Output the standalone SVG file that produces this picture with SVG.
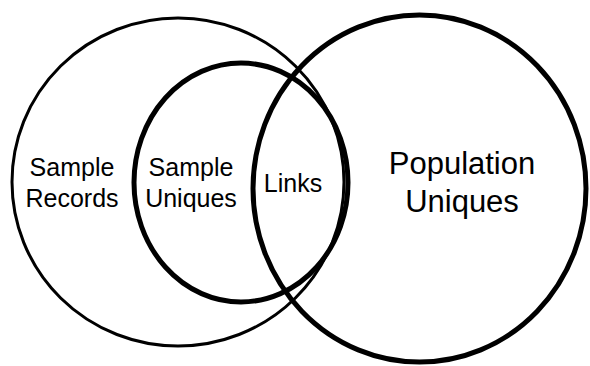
<svg xmlns="http://www.w3.org/2000/svg" width="590" height="366" viewBox="0 0 590 366">
<style>
.c{fill:none;stroke:#000}
.thin{stroke-width:3}
.thick{stroke-width:5}
.t{font-family:"Liberation Sans",Arial,sans-serif;font-size:25px;fill:#000;text-anchor:middle}
.big{font-size:31px}
</style>
<rect width="590" height="366" fill="#fff"/>
<g id="sample-records">
<ellipse class="c thin" cx="178" cy="182" rx="166" ry="164"/>
<text class="t" x="72" y="176">Sample</text>
<text class="t" x="72" y="207">Records</text>
</g>
<g id="sample-uniques">
<ellipse class="c thick" cx="241" cy="182.5" rx="107" ry="119.5"/>
<text class="t" x="191" y="176">Sample</text>
<text class="t" x="191" y="207">Uniques</text>
</g>
<g id="population-uniques">
<ellipse class="c thick" cx="419.5" cy="188.5" rx="166.5" ry="173.5"/>
<text class="t big" x="462" y="174">Population</text>
<text class="t big" x="462" y="212">Uniques</text>
</g>
<g id="links">
<text class="t" x="293" y="192">Links</text>
</g>
</svg>
